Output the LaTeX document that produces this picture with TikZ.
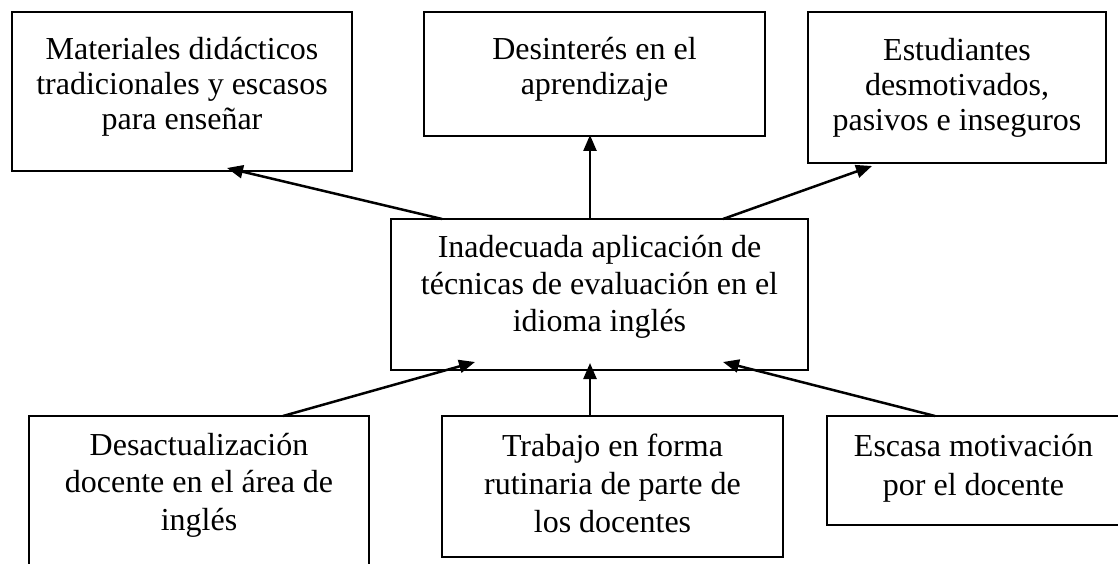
\documentclass[tikz,border=0pt]{standalone}
\usepackage{fontspec}
\setmainfont{Liberation Serif}
\usetikzlibrary{arrows.meta}
\newcommand{\bxt}[5]{\parbox[c][#2][t]{#1}{\centering\fontsize{32pt}{#4}\selectfont\rule{0pt}{#3}#5\par}}
\tikzset{
  box/.style={draw, line width=1.5pt, inner sep=0pt, outer sep=0pt, anchor=north west},
  arr/.style={line width=2.5pt, -{Triangle[length=16pt,width=13pt]}}
}
\begin{document}
\begin{tikzpicture}[x=1pt,y=-1pt]
\useasboundingbox (0,0) rectangle (1118,564);
\node[box] (tl) at (12,12) {\bxt{340pt}{159pt}{48pt}{35pt}{Materiales didácticos\\tradicionales y escasos\\para enseñar}};
\node[box] (tm) at (424,12) {\bxt{341pt}{124pt}{48pt}{35pt}{Desinterés en el\\aprendizaje}};
\node[box] (tr) at (808,12) {\bxt{298pt}{151pt}{49pt}{35pt}{Estudiantes\\desmotivados,\\pasivos e inseguros}};
\node[box] (c) at (391,219) {\bxt{417pt}{151pt}{38pt}{37pt}{Inadecuada aplicación de\\técnicas de evaluación en el\\idioma inglés}};
\node[box] (bl) at (29,416) {\bxt{340pt}{164pt}{39pt}{37.5pt}{Desactualización\\docente en el área de\\inglés}};
\node[box] (bm) at (442,416) {\bxt{341pt}{141pt}{40pt}{38pt}{Trabajo en forma\\rutinaria de parte de\\los docentes}};
\node[box] (br) at (827,416) {\bxt{293pt}{109pt}{40pt}{39pt}{Escasa motivación\\por el docente}};
\draw[arr] ([xshift=51pt]c.north west) -- ([xshift=215pt,yshift=3pt]tl.south west);
\draw[arr] ([xshift=199pt]c.north west) -- ([xshift=166pt,yshift=1pt]tm.south west);
\draw[arr] ([xshift=332pt]c.north west) -- ([xshift=64pt,yshift=-3pt]tr.south west);
\draw[arr] ([xshift=254pt]bl.north west) -- ([xshift=84pt,yshift=8pt]c.south west);
\draw[arr] ([xshift=148pt]bm.north west) -- ([xshift=199pt,yshift=7pt]c.south west);
\draw[arr] ([xshift=108pt]br.north west) -- ([xshift=332pt,yshift=8pt]c.south west);
\end{tikzpicture}
\end{document}
